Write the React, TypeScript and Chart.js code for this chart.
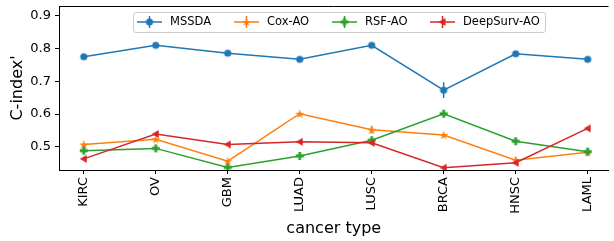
import { useEffect, useRef } from "react";
import { Chart, registerables } from "chart.js";

Chart.register(...registerables);

const categories = ["KIRC", "OV", "GBM", "LUAD", "LUSC", "BRCA", "HNSC", "LAML"];
const seriesNames = ["MSSDA", "Cox-AO", "RSF-AO", "DeepSurv-AO"];
const mssda = [0.775, 0.81, 0.786, 0.767, 0.81, 0.673, 0.784, 0.767];
const mssdaErr = [0.004, 0.004, 0.004, 0.004, 0.004, 0.024, 0.004, 0.004];
const coxAO = [0.507, 0.523, 0.456, 0.601, 0.552, 0.536, 0.459, 0.483];
const coxAOErr = [0.004, 0.004, 0.004, 0.004, 0.012, 0.004, 0.01, 0.004];
const rsfAO = [0.488, 0.495, 0.437, 0.472, 0.52, 0.601, 0.517, 0.485];
const rsfAOErr = [0.004, 0.004, 0.003, 0.004, 0.004, 0.004, 0.004, 0.004];
const deepSurvAO = [0.463, 0.539, 0.507, 0.515, 0.512, 0.436, 0.451, 0.556];
const deepSurvAOErr = [0.004, 0.004, 0.004, 0.004, 0.004, 0.003, 0.004, 0.004];
const yTicks = [0.5, 0.6, 0.7, 0.8, 0.9];

const colors = ["#1f77b4", "#ff7f0e", "#2ca02c", "#d62728"];
const markerKinds = ["circle", "star", "plus", "triLeft"];
const FONT = "'DejaVu Sans', sans-serif";

function makeMarker(kind: string, color: string): HTMLCanvasElement {
  const c = document.createElement("canvas");
  const s = 10;
  c.width = s;
  c.height = s;
  const g = c.getContext("2d")!;
  g.fillStyle = color;
  const cx = s / 2;
  const cy = s / 2;
  g.beginPath();
  if (kind === "circle") {
    g.arc(cx, cy, 3.6, 0, Math.PI * 2);
  } else if (kind === "star") {
    const R = 4.8;
    const r = R * 0.381966;
    for (let i = 0; i < 10; i++) {
      const a = -Math.PI / 2 + (i * Math.PI) / 5;
      const rr = i % 2 === 0 ? R : r;
      const px = cx + rr * Math.cos(a);
      const py = cy + rr * Math.sin(a) + 0.4;
      if (i === 0) g.moveTo(px, py);
      else g.lineTo(px, py);
    }
    g.closePath();
  } else if (kind === "plus") {
    const h = 4;
    const w = 1.4;
    g.moveTo(cx - w, cy - h);
    g.lineTo(cx + w, cy - h);
    g.lineTo(cx + w, cy - w);
    g.lineTo(cx + h, cy - w);
    g.lineTo(cx + h, cy + w);
    g.lineTo(cx + w, cy + w);
    g.lineTo(cx + w, cy + h);
    g.lineTo(cx - w, cy + h);
    g.lineTo(cx - w, cy + w);
    g.lineTo(cx - h, cy + w);
    g.lineTo(cx - h, cy - w);
    g.lineTo(cx - w, cy - w);
    g.closePath();
  } else {
    g.moveTo(cx - 4, cy);
    g.lineTo(cx + 3, cy - 4);
    g.lineTo(cx + 3, cy + 4);
    g.closePath();
  }
  g.fill();
  return c;
}

export default function App() {
  const ref = useRef<HTMLCanvasElement | null>(null);

  useEffect(() => {
    const canvas = ref.current;
    if (!canvas) return;
    const markers = markerKinds.map((k, i) => makeMarker(k, colors[i]));
    const values = [mssda, coxAO, rsfAO, deepSurvAO];
    const errors = [mssdaErr, coxAOErr, rsfAOErr, deepSurvAOErr];

    const plugin = {
      id: "mplExtras",
      beforeDatasetsDraw(chart: any) {
        const { ctx, scales } = chart;
        const x = scales.x;
        const y = scales.y;
        ctx.save();
        ctx.lineWidth = 1.5;
        values.forEach((vals, si) => {
          ctx.strokeStyle = colors[si];
          vals.forEach((v, i) => {
            const e = errors[si][i];
            const px = x.getPixelForValue(i);
            ctx.beginPath();
            ctx.moveTo(px, y.getPixelForValue(v - e));
            ctx.lineTo(px, y.getPixelForValue(v + e));
            ctx.stroke();
          });
        });
        ctx.restore();
      },
      afterDraw(chart: any) {
        const { ctx, chartArea } = chart;
        ctx.save();
        // top spine
        ctx.strokeStyle = "#000";
        ctx.lineWidth = 1;
        ctx.beginPath();
        ctx.moveTo(chartArea.left, Math.round(chartArea.top) + 0.5);
        ctx.lineTo(chartArea.right, Math.round(chartArea.top) + 0.5);
        ctx.stroke();
        // legend
        const bx = 133.5, by = 12.5, bw = 412, bh = 20, r = 2.5;
        ctx.beginPath();
        ctx.moveTo(bx + r, by);
        ctx.lineTo(bx + bw - r, by);
        ctx.quadraticCurveTo(bx + bw, by, bx + bw, by + r);
        ctx.lineTo(bx + bw, by + bh - r);
        ctx.quadraticCurveTo(bx + bw, by + bh, bx + bw - r, by + bh);
        ctx.lineTo(bx + r, by + bh);
        ctx.quadraticCurveTo(bx, by + bh, bx, by + bh - r);
        ctx.lineTo(bx, by + r);
        ctx.quadraticCurveTo(bx, by, bx + r, by);
        ctx.closePath();
        ctx.fillStyle = "rgba(255,255,255,0.8)";
        ctx.fill();
        ctx.strokeStyle = "#cccccc";
        ctx.stroke();
        const xs = [137, 234, 332, 430];
        const cy = 22;
        ctx.font = `11.5px ${FONT}`;
        ctx.textBaseline = "middle";
        ctx.textAlign = "left";
        seriesNames.forEach((name, i) => {
          ctx.strokeStyle = colors[i];
          ctx.lineWidth = 1.5;
          ctx.beginPath();
          ctx.moveTo(xs[i], cy);
          ctx.lineTo(xs[i] + 25, cy);
          ctx.moveTo(xs[i] + 12.5, cy - 6);
          ctx.lineTo(xs[i] + 12.5, cy + 6);
          ctx.stroke();
          const m = markers[i];
          ctx.drawImage(m, xs[i] + 12.5 - m.width / 2, cy - m.height / 2);
          ctx.fillStyle = "#000";
          ctx.fillText(name, xs[i] + 33, cy);
        });
        ctx.restore();
      },
    };

    const chart = new Chart(canvas, {
      type: "line",
      data: {
        datasets: values.map((vals, si) => ({
          label: seriesNames[si],
          data: vals.map((v, i) => ({ x: i, y: v })),
          borderColor: colors[si],
          backgroundColor: colors[si],
          borderWidth: 1.5,
          pointStyle: markers[si] as any,
          pointRadius: 4,
          pointHoverRadius: 4,
          order: 3 - si,
          tension: 0,
          fill: false,
        })),
      },
      options: {
        animation: false,
        responsive: false,
        devicePixelRatio: 1,
        layout: { padding: { top: 6, right: 0, bottom: 0, left: 0 } },
        plugins: {
          legend: { display: false },
          tooltip: { enabled: false },
        },
        scales: {
          x: {
            type: "linear",
            min: -0.344,
            max: 7.29,
            afterBuildTicks: (s: any) => {
              s.ticks = categories.map((_, i) => ({ value: i }));
            },
            afterFit: (s: any) => {
              s.height = 71;
              s.paddingLeft = 0;
              s.paddingRight = 0;
            },
            grid: { drawOnChartArea: false, drawTicks: true, tickLength: 4, color: "#000" },
            border: { display: true, color: "#000", width: 1 },
            ticks: {
              autoSkip: false,
              minRotation: 90,
              maxRotation: 90,
              padding: 3,
              color: "#000",
              font: { family: FONT, size: 13 },
              callback: (v: any) => categories[v as number],
            },
            title: {
              display: true,
              text: "cancer type",
              color: "#000",
              font: { family: FONT, size: 16 },
              padding: { top: 0, bottom: 3 },
            },
          },
          y: {
            min: 0.429,
            max: 0.93,
            afterBuildTicks: (s: any) => {
              s.ticks = yTicks.map((value) => ({ value }));
            },
            afterFit: (s: any) => {
              s.width = 59;
              s.paddingTop = 0;
              s.paddingBottom = 0;
            },
            grid: { drawOnChartArea: false, drawTicks: true, tickLength: 4, color: "#000" },
            border: { display: true, color: "#000", width: 1 },
            ticks: {
              padding: 4,
              color: "#000",
              font: { family: FONT, size: 13 },
              callback: (v: any) => Number(v).toFixed(1),
            },
            title: {
              display: true,
              text: "C-index'",
              color: "#000",
              font: { family: FONT, size: 16 },
              padding: { top: 8, bottom: 8 },
            },
          },
        },
      },
      plugins: [plugin],
    } as any);

    return () => chart.destroy();
  }, []);

  return (
    <div style={{ position: "absolute", left: 0, top: 0, width: 614, height: 241 }}>
      <canvas ref={ref} width={614} height={241} style={{ display: "block" }} />
    </div>
  );
}
